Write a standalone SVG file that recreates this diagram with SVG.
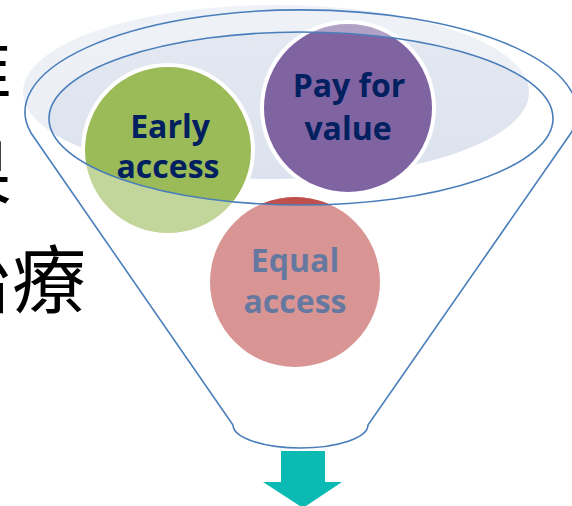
<svg xmlns="http://www.w3.org/2000/svg" xmlns:xlink="http://www.w3.org/1999/xlink" width="572" height="506" viewBox="0 0 572 506">
<style>
.cjk{font-family:"Noto Sans CJK TC","Noto Sans CJK SC",sans-serif;font-size:74px;fill:#000}
.lbl{font-family:"Open Sans","Liberation Sans",sans-serif;font-weight:700;font-size:32px;fill:#002060;text-anchor:middle}
.ring{stroke:#fff;stroke-width:4}
.line{fill:none;stroke:#4a7ebb;stroke-width:1.6}
</style>
<defs>
<clipPath id="innerClip"><ellipse cx="301" cy="118.5" rx="252" ry="86.5"/></clipPath>
<linearGradient id="shade" x1="0" y1="0" x2="0" y2="1">
<stop offset="0" stop-color="#e4e9f2"/>
<stop offset="1" stop-color="#dde3ee"/>
</linearGradient>
</defs>
<rect width="572" height="506" fill="#fff"/>
<g id="side-text">
<text class="cjk" x="-62" y="95">准</text>
<text class="cjk" x="-62" y="200">果</text>
<text class="cjk" x="-62" y="307">治療</text>
</g>
<g opacity="0.6">
<g id="content">
<ellipse id="funnel-shade" cx="276" cy="92" rx="253" ry="87" fill="url(#shade)"/>
<g id="early-access">
<circle class="ring" cx="168" cy="150" r="85" fill="#9bbb59"/>
<text class="lbl" x="170" y="138">Early</text>
<text class="lbl" x="168" y="178">access</text>
</g>
<g id="pay-for-value">
<circle class="ring" cx="348" cy="108" r="86" fill="#8064a2"/>
<text class="lbl" x="349" y="97">Pay for</text>
<text class="lbl" x="348" y="140">value</text>
</g>
<g id="equal-access">
<circle cx="295" cy="282" r="85" fill="#c0504d"/>
<text class="lbl" x="295" y="272">Equal</text>
<text class="lbl" x="295" y="313">access</text>
</g>
</g>
</g>
<use xlink:href="#content" clip-path="url(#innerClip)"/>
<g id="connectors">
<path class="line" d="M31,133 A276,102 0 1 1 571,133 L368,425 A67.5,23 0 0 1 233,425 Z"/>
<ellipse class="line" cx="301" cy="118.5" rx="252" ry="86.5"/>
</g>
<g id="output-arrow">
<path d="M281,451 H325 V482 H342 L303,508 L263,482 H281 Z" fill="#0bbbb3"/>
</g>
</svg>
